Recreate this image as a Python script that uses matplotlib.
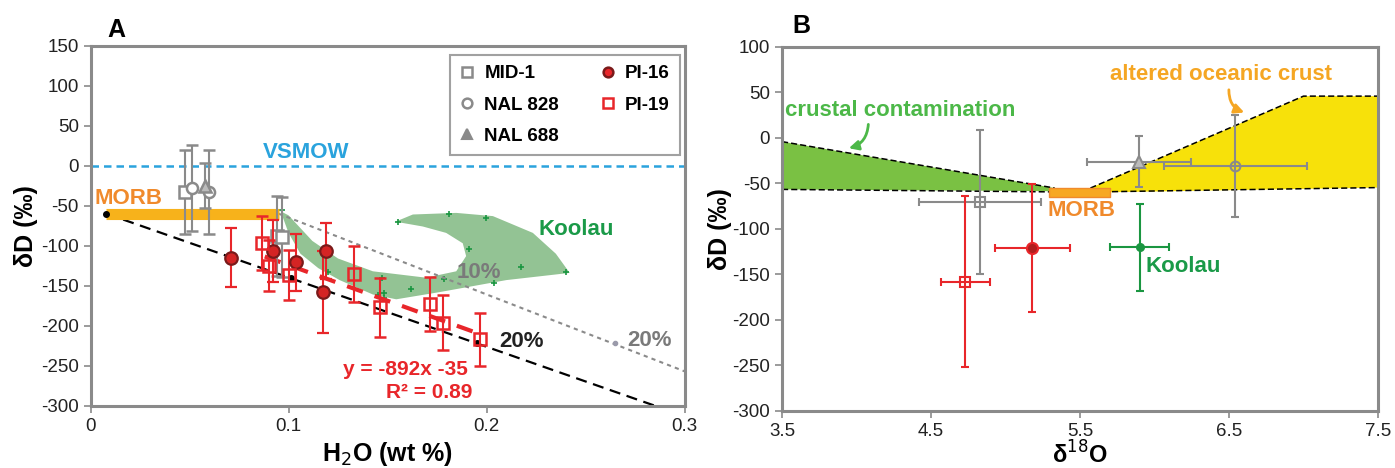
import numpy as np
import matplotlib.pyplot as plt
from matplotlib.lines import Line2D

plt.rcParams['font.family'] = ['Liberation Sans Narrow', 'Liberation Sans', 'DejaVu Sans']
plt.rcParams['axes.unicode_minus'] = False

# ---- Panel A data ----
# MID-1 (gray squares)
mid_x = [0.0475, 0.094, 0.0965]
mid_y = [-33, -88, -89]
mid_e = [53, 50, 50]
# NAL 828 (gray circles)
n828_x = [0.051, 0.060]
n828_y = [-28, -33]
n828_e = [54, 53]
# NAL 688 (gray triangle)
n688_x = [0.058]
n688_y = [-25]
n688_e = [28]
# PI-16 (red circles)
pi16_x = [0.0707, 0.0921, 0.1039, 0.1187, 0.1174]
pi16_y = [-115, -107, -121, -107, -158]
pi16_e = [37, 39, 36, 35, 51]
# PI-19 (open red squares)
pi19_x = [0.0867, 0.0900, 0.1002, 0.1333, 0.1463, 0.1715, 0.1780, 0.1965]
pi19_y = [-97, -125, -137, -136, -177, -173, -196, -217]
pi19_e = [34, 32, 31, 35, 37, 34, 34, 33]

# Koolau field outline and points
koolau_poly_x = [0.0960, 0.1000, 0.1060, 0.1150, 0.1258, 0.1426, 0.1544, 0.1763,
                 0.2100, 0.2420, 0.2350, 0.2234, 0.2032, 0.1847, 0.1628, 0.1540,
                 0.1678, 0.1796, 0.1880, 0.1897, 0.1847, 0.1695, 0.1426, 0.1250,
                 0.1120, 0.1000]
koolau_poly_y = [-57, -84, -110, -128, -143, -161, -167, -158,
                 -143, -134, -110, -84, -63, -59, -61, -70,
                 -76, -84, -97, -113, -132, -140, -132, -116,
                 -94, -62]
koolau_x = [0.0968, 0.1199, 0.1473, 0.1451, 0.1480, 0.1481, 0.1620, 0.1783,
            0.2040, 0.2172, 0.1910, 0.1552, 0.1810, 0.1999, 0.2400]
koolau_y = [-56, -133, -140, -162, -159, -166, -154, -142,
            -147, -127, -104, -70, -61, -66, -133]

# mixing lines
mix_black_x = [0.008, 0.285]
mix_black_y = [-60, -300]
mix_black_pts_x = [0.008, 0.101, 0.195]
mix_black_pts_y = [-60, -140, -222]
mix_gray_x = [0.095, 0.30]
mix_gray_y = [-60, -257]
mix_gray_pts_x = [0.265]
mix_gray_pts_y = [-222]
fit_x = [0.088, 0.194]
fit_slope, fit_icpt = -892, -35
morb_x = [0.008, 0.095]
morb_y = -60

# ---- Panel B data ----
b_mid = (4.83, -70.6, 0.41, 79)
b_n688 = (5.894, -26, 0.35, 28)
b_n828 = (6.543, -31, 0.48, 56)
b_pi19 = (4.73, -158, 0.165, 94)
b_pi16 = (5.18, -121, 0.25, 70)
b_koolau = (5.90, -120, 0.20, 48)

crust_x = [3.5, 5.33, 5.33, 3.5]
crust_y = [-4, -55, -58.5, -56.5]
aoc_top_x = [5.57, 7.0, 7.5]
aoc_top_y = [-55, 46, 46]
aoc_bot_x = [7.5, 5.57]
aoc_bot_y = [-54.5, -60]
low_x = [3.5, 5.5, 7.5]
low_y = [-56.5, -59.5, -54.5]
morb_b = (5.29, 5.70, -64.3, -55.5)

GRAY = '#8a8a8a'
RED = '#e8262a'
DKRED = '#7a1a1a'
GREEN = '#1a9a48'
ORANGE = '#f08a2c'
BLUE = '#2aa3dd'

fig = plt.figure(figsize=(13.95, 4.68), dpi=100)
ax1 = fig.add_axes([0.0649, 0.1331, 0.4258, 0.7693])
ax2 = fig.add_axes([0.5606, 0.1218, 0.4272, 0.7778])

for ax in (ax1, ax2):
    for s in ax.spines.values():
        s.set_color(GRAY)
        s.set_linewidth(2.2)
    ax.tick_params(colors=GRAY, labelcolor='#222222', labelsize=13.5, length=5, width=1.2)

# ---- Panel A ----
ax1.fill(koolau_poly_x, koolau_poly_y, color='#93c394', lw=0, zorder=1)
ax1.plot(koolau_x, koolau_y, '+', color='#1a9641', ms=5, mew=1.2, zorder=2)
ax1.axhline(0, color=BLUE, ls=(0, (3, 2)), lw=1.8, zorder=1)
ax1.plot(mix_black_x, mix_black_y, color='black', ls=(0, (5, 3)), lw=1.6, zorder=2)
ax1.plot(mix_black_pts_x, mix_black_pts_y, 'o', color='black', ms=4, zorder=3)
ax1.plot(mix_gray_x, mix_gray_y, color=GRAY, ls=(0, (2, 2)), lw=1.5, zorder=2)
ax1.plot(mix_gray_pts_x, mix_gray_pts_y, 'o', color='#9a9aaa', ms=3, zorder=3)
fx = np.array(fit_x)
ax1.plot(fx, fit_slope * fx + fit_icpt, color=RED, ls=(0, (4, 3)), lw=3, zorder=4)
ax1.plot(morb_x, [morb_y, morb_y], color='#f7b21b', lw=8, solid_capstyle='butt', zorder=2)

ax1.errorbar(mid_x, mid_y, yerr=mid_e, fmt='s', mfc='white', mec=GRAY, ecolor=GRAY,
             ms=8, mew=1.8, capsize=4, elinewidth=1.5, zorder=5)
ax1.errorbar(n828_x, n828_y, yerr=n828_e, fmt='o', mfc='white', mec=GRAY, ecolor=GRAY,
             ms=8, mew=1.8, capsize=4, elinewidth=1.5, zorder=5)
ax1.errorbar(n688_x, n688_y, yerr=n688_e, fmt='^', mfc='#bbbbbb', mec=GRAY, ecolor=GRAY,
             ms=9, mew=1.8, capsize=4, elinewidth=1.5, zorder=5)
ax1.errorbar(pi16_x, pi16_y, yerr=pi16_e, fmt='o', mfc='#d42424', mec=DKRED, ecolor=RED,
             ms=9, mew=1.6, capsize=4, elinewidth=1.5, zorder=6)
ax1.errorbar(pi19_x, pi19_y, yerr=pi19_e, fmt='s', mfc='none', mec=RED, ecolor=RED,
             ms=9, mew=1.8, capsize=4, elinewidth=1.5, zorder=6)

ax1.set_xlim(0, 0.3)
ax1.set_ylim(-300, 150)
ax1.set_xticks([0, 0.1, 0.2, 0.3])
ax1.set_xticklabels(['0', '0.1', '0.2', '0.3'])
ax1.set_yticks(np.arange(-300, 151, 50))
ax1.set_xlabel('H$_2$O (wt %)', fontsize=18, fontweight='bold', labelpad=4)
ax1.set_ylabel('δD (‰)', fontsize=18, fontweight='bold', labelpad=2)

tk = dict(fontweight='bold', fontsize=16)
ax1.text(0.109, 16, 'VSMOW', color=BLUE, ha='center', va='center', **tk)
ax1.text(0.002, -41, 'MORB', color=ORANGE, ha='left', va='center', **tk)
ax1.text(0.226, -80, 'Koolau', color=GREEN, ha='left', va='center', **tk)
ax1.text(0.185, -134, '10%', color='#7a7a7a', ha='left', va='center', **tk)
ax1.text(0.2065, -220, '20%', color='#222222', ha='left', va='center', **tk)
ax1.text(0.271, -218, '20%', color='#7a7a7a', ha='left', va='center', **tk)
ax1.text(0.159, -255, 'y = -892x -35', color=RED, ha='center', va='center', fontsize=15, fontweight='bold')
ax1.text(0.171, -283, 'R² = 0.89', color=RED, ha='center', va='center', fontsize=15, fontweight='bold')
fig.text(0.077, 0.935, 'A', fontsize=18, fontweight='bold', va='center')

handles = [
    Line2D([], [], ls='none', marker='s', mfc='white', mec=GRAY, ms=7, mew=1.8),
    Line2D([], [], ls='none', marker='o', mfc='white', mec=GRAY, ms=7, mew=1.8),
    Line2D([], [], ls='none', marker='^', mfc=GRAY, mec=GRAY, ms=7, mew=1.5),
    Line2D([], [], ls='none', marker='o', mfc=RED, mec=DKRED, ms=7, mew=1.8),
    Line2D([], [], ls='none', marker='s', mfc='white', mec=RED, ms=7, mew=1.8),
]
leg = ax1.legend(handles, ['MID-1', 'NAL 828', 'NAL 688', 'PI-16', 'PI-19'], ncol=2,
                 loc='upper right', bbox_to_anchor=(0.992, 0.974), borderaxespad=0,
                 fancybox=False, edgecolor=GRAY, handlelength=0.8, handletextpad=0.5,
                 columnspacing=2.2, labelspacing=0.75, borderpad=0.55,
                 prop={'weight': 'bold', 'size': 13.5})
leg.get_frame().set_linewidth(1.5)
leg.set_zorder(10)

# ---- Panel B ----
ax2.fill(crust_x, crust_y, color='#7ac143', lw=0, zorder=1)
ax2.fill(aoc_top_x + aoc_bot_x, aoc_top_y + aoc_bot_y, color='#f7e10a', lw=0, zorder=1)
ax2.plot(crust_x[:2], crust_y[:2], color='black', ls=(0, (4, 2)), lw=1.1, zorder=2)
ax2.plot(low_x, low_y, color='black', ls=(0, (4, 2)), lw=1.1, zorder=2)
ax2.plot(aoc_top_x, aoc_top_y, color='black', ls=(0, (4, 2)), lw=1.1, zorder=2)
ax2.fill_between([morb_b[0], morb_b[1]], morb_b[2], morb_b[3], color='#f7a823',
                 edgecolor='#f08a2c', lw=1, zorder=3)


def pt(ax, d, fmt, mfc, mec, col, ms=8):
    ax.errorbar(d[0], d[1], xerr=d[2], yerr=d[3], fmt=fmt, mfc=mfc, mec=mec, ecolor=col,
                ms=ms, mew=1.5, capsize=3, elinewidth=1.5, zorder=5)


pt(ax2, b_mid, 's', 'none', GRAY, GRAY, 7)
pt(ax2, b_n688, '^', '#bbbbbb', GRAY, GRAY, 8)
pt(ax2, b_n828, 'o', 'none', GRAY, GRAY, 7)
pt(ax2, b_pi19, 's', 'none', RED, RED, 7)
pt(ax2, b_pi16, 'o', '#b01e1e', RED, RED, 8)
pt(ax2, b_koolau, 'o', '#1a9641', '#1a9641', '#1a9641', 5)

ax2.set_xlim(3.5, 7.5)
ax2.set_ylim(-300, 100)
ax2.set_xticks([3.5, 4.5, 5.5, 6.5, 7.5])
ax2.set_yticks(np.arange(-300, 101, 50))
ax2.set_ylabel('δD (‰)', fontsize=18, fontweight='bold', labelpad=0)
ax2.set_xlabel('δ$^{18}$O', fontsize=17, fontweight='bold', labelpad=1)

ax2.text(3.52, 30, 'crustal contamination', color='#4cb848', ha='left', va='center', **tk)
ax2.text(5.70, 70, 'altered oceanic crust', color='#f5a623', ha='left', va='center', **tk)
ax2.text(5.28, -80, 'MORB', color=ORANGE, ha='left', va='center', **tk)
ax2.text(5.94, -141, 'Koolau', color=GREEN, ha='left', va='center', **tk)
ax2.annotate('', xy=(3.93, -12), xytext=(4.08, 18),
             arrowprops=dict(arrowstyle='-|>', color='#4cb848', lw=2, mutation_scale=14,
                             connectionstyle='arc3,rad=-0.4'), zorder=6)
ax2.annotate('', xy=(6.62, 27), xytext=(6.5, 56),
             arrowprops=dict(arrowstyle='-|>', color='#f5a623', lw=2, mutation_scale=14,
                             connectionstyle='arc3,rad=0.4'), zorder=6)
fig.text(0.568, 0.945, 'B', fontsize=18, fontweight='bold', va='center')

fig.savefig('out.png', dpi=100)
